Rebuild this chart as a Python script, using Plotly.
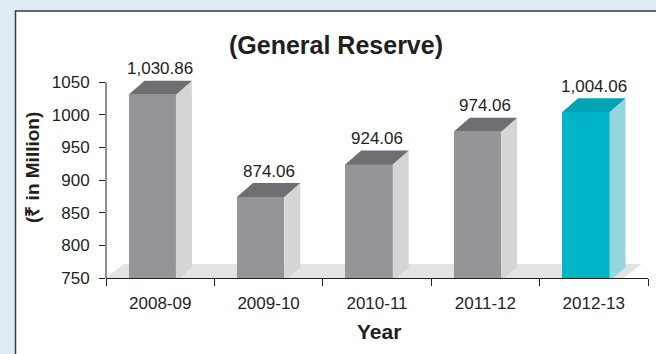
import plotly.graph_objects as go

# --- data -------------------------------------------------------------
years = ["2008-09", "2009-10", "2010-11", "2011-12", "2012-13"]
reserve = [1030.86, 874.06, 924.06, 974.06, 1004.06]
value_labels = ["1,030.86", "874.06", "924.06", "974.06", "1,004.06"]
y_ticks = [750, 800, 850, 900, 950, 1000, 1050]

# --- styling ----------------------------------------------------------
FONT = "Liberation Sans, Arial, sans-serif"
INK = "#231f20"
GRAY = dict(front="#939598", top="#6d6e71", side="#d4d5d6")
CYAN = dict(front="#00b5c8", top="#00a4b4", side="#94d6e0")
palettes = [GRAY, GRAY, GRAY, GRAY, CYAN]

W, H = 656, 354
L, R, T, B = 106, 648, 60, 278          # plot area in pixels
Y0, Y1 = 750, 1050
px_per_unit_y = 195.7 / (Y1 - Y0)
y_top = Y0 + (B - T) / px_per_unit_y
px_per_cat = (R - L) / len(years)

# 3-D look: depth offsets (px) converted to axis units
DEPTH_X = 16 / px_per_cat
DEPTH_Y = 14 / px_per_unit_y
FRONT_W = 47.4 / px_per_cat
FRONT_SHIFT = -8 / px_per_cat


def px2paper(px, py):
    return (px - L) / (R - L), (B - py) / (B - T)


x_idx = list(range(len(years)))
fig = go.Figure()

# front faces
fig.add_trace(go.Bar(
    x=x_idx, y=reserve,
    width=FRONT_W, offset=FRONT_SHIFT - FRONT_W / 2,
    marker=dict(color=[p["front"] for p in palettes], line=dict(width=0)),
    hoverinfo="skip", showlegend=False,
))

# side and top faces
for i, (v, p) in enumerate(zip(reserve, palettes)):
    xl = i + FRONT_SHIFT - FRONT_W / 2
    xr = xl + FRONT_W
    fig.add_trace(go.Scatter(
        x=[xr, xr, xr + DEPTH_X, xr + DEPTH_X, xr],
        y=[Y0 - 5, v, v + DEPTH_Y, Y0 - 5 + DEPTH_Y, Y0 - 5],
        fill="toself", fillcolor=p["side"], mode="lines",
        line=dict(width=0), hoverinfo="skip", showlegend=False,
    ))
    fig.add_trace(go.Scatter(
        x=[xl, xr, xr + DEPTH_X, xl + DEPTH_X, xl],
        y=[v, v, v + DEPTH_Y, v + DEPTH_Y, v],
        fill="toself", fillcolor=p["top"], mode="lines",
        line=dict(width=0), hoverinfo="skip", showlegend=False,
    ))

# value labels above each column
annotations = []
for i, (v, t) in enumerate(zip(reserve, value_labels)):
    annotations.append(dict(
        x=i, y=v, xref="x", yref="y", text=t, showarrow=False,
        xanchor="center", yanchor="middle", yshift=26,
        font=dict(family=FONT, size=17, color=INK),
    ))


def text_at(px, py, text, size, angle=0):
    x, y = px2paper(px, py)
    return dict(x=x, y=y, xref="paper", yref="paper", text=text,
                showarrow=False, xanchor="center", yanchor="middle",
                textangle=angle, font=dict(family=FONT, size=size, color=INK))


annotations.append(text_at(336, 45, "<b>(General Reserve)</b>", 25))
annotations.append(text_at(32, 168, "<b>(₹ in Million)</b>", 19, -90))
annotations.append(text_at(379, 331, "<b>Year</b>", 21))

# white panel with border, floor, and y-axis line
px0, py0 = px2paper(15.5, 400)
px1, py1 = px2paper(700, 11)
floor_front_r = -0.5 + (624 - L) / px_per_cat
shapes = [
    dict(type="rect", xref="paper", yref="paper", x0=px0, x1=px1, y0=py0, y1=py1,
         fillcolor="white", line=dict(color="#3a3a3a", width=1.5), layer="below"),
    dict(type="path", xref="x", yref="y", layer="below",
         path=(f"M -0.5,{Y0} L {floor_front_r},{Y0} "
               f"L {floor_front_r + DEPTH_X * 1.1},{Y0 + DEPTH_Y} "
               f"L {-0.5 + DEPTH_X * 1.1},{Y0 + DEPTH_Y} Z"),
         fillcolor="#e3e3e3", line=dict(width=0)),
    dict(type="line", xref="paper", yref="y", x0=0, x1=0, y0=Y0, y1=Y1,
         line=dict(color=INK, width=1)),
]

fig.update_layout(
    width=W, height=H,
    margin=dict(l=L, r=W - R, t=T, b=H - B),
    paper_bgcolor="#dfeaf6", plot_bgcolor="rgba(0,0,0,0)",
    bargap=0, showlegend=False,
    annotations=annotations, shapes=shapes,
    xaxis=dict(
        range=[-0.5, len(years) - 0.5], tickvals=x_idx, ticktext=years,
        ticks="", showgrid=False, zeroline=False,
        showline=True, linecolor=INK, linewidth=1,
        tickfont=dict(family=FONT, size=17, color=INK),
        ticklabelstandoff=10,
        minor=dict(tickvals=[i - 0.5 for i in range(len(years) + 1)],
                   ticks="outside", ticklen=7, tickcolor=INK, tickwidth=1,
                   showgrid=False),
    ),
    yaxis=dict(
        range=[Y0, y_top], tickvals=y_ticks,
        ticks="outside", ticklen=6, tickcolor=INK, tickwidth=1,
        showgrid=False, zeroline=False, showline=False,
        tickfont=dict(family=FONT, size=17, color=INK),
        ticklabelstandoff=6,
    ),
)

fig.write_html("out.html")
